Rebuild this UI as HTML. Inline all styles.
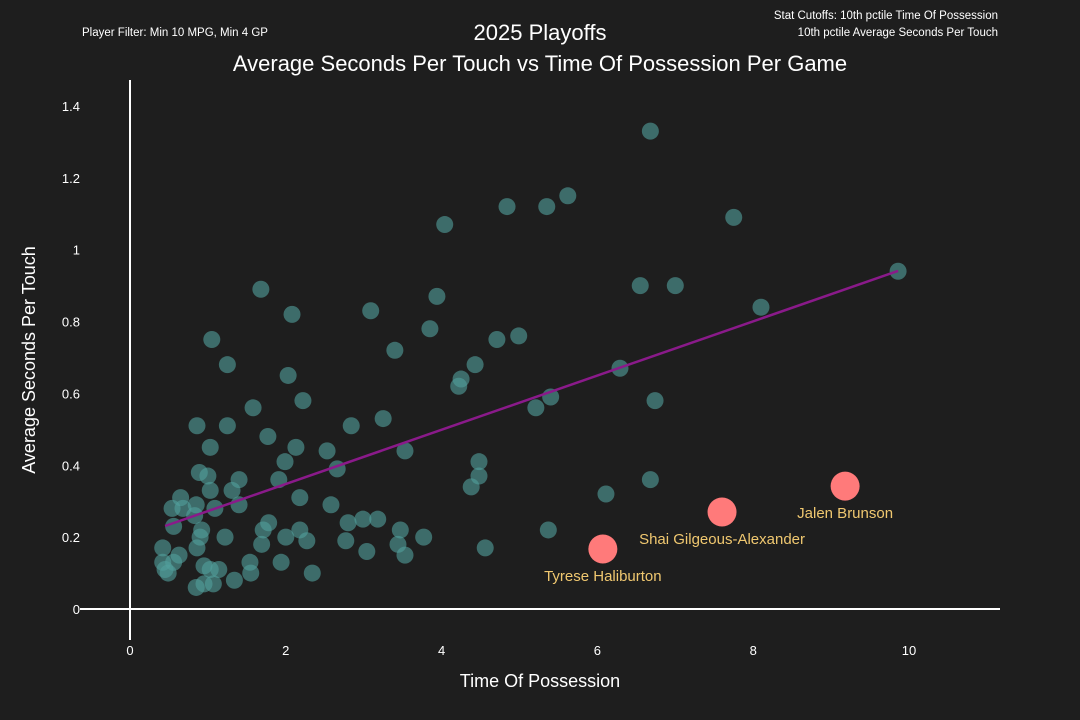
<!DOCTYPE html>
<html><head><meta charset="utf-8"><style>
html,body{margin:0;padding:0;background:#1e1e1e;}
svg{display:block;font-family:"Liberation Sans",sans-serif;}
</style></head><body>
<svg id="chart" width="1080" height="720">
<rect width="1080" height="720" fill="#1e1e1e"/>
<text x="540" y="40" fill="#fff" font-size="22" text-anchor="middle">2025 Playoffs</text>
<text x="540" y="71" fill="#fff" font-size="22" text-anchor="middle">Average Seconds Per Touch vs Time Of Possession Per Game</text>
<text x="82" y="36" fill="#fff" font-size="11.5">Player Filter: Min 10 MPG, Min 4 GP</text>
<text x="998" y="19" fill="#fff" font-size="11.5" text-anchor="end">Stat Cutoffs: 10th pctile Time Of Possession</text>
<text x="998" y="36" fill="#fff" font-size="11.5" text-anchor="end">10th pctile Average Seconds Per Touch</text>
<g id="axes"></g>
<g id="marks"></g>
<text x="540" y="687" fill="#fff" font-size="18" text-anchor="middle">Time Of Possession</text>
<text transform="translate(35,360) rotate(-90)" fill="#fff" font-size="18" text-anchor="middle">Average Seconds Per Touch</text>
</svg>
<script>
const xs=[6.68,5.62,4.84,5.35,7.75,4.04,9.86,6.55,7.00,1.68,3.94,2.08,3.09,8.10,3.85,3.40,4.99,4.71,1.05,6.29,4.43,4.25,4.22,2.03,1.25,2.22,5.40,6.74,1.58,5.21,0.86,1.25,3.25,2.84,1.03,1.77,2.13,3.53,4.48,2.53,1.99,2.66,1.91,0.89,1.40,1.00,4.48,4.38,6.11,6.68,0.65,1.03,1.31,0.85,1.40,2.18,2.58,3.18,2.99,2.80,0.54,0.68,1.09,0.83,1.78,0.92,0.56,2.18,5.37,3.47,1.71,2.27,0.90,3.77,2.77,3.04,3.44,1.69,2.00,0.86,0.42,1.22,0.63,0.56,0.95,0.45,1.14,1.94,1.54,2.34,3.53,4.56,1.55,0.42,1.03,0.49,1.34,0.85,1.07,0.95];
const ys=[1.33,1.15,1.12,1.12,1.09,1.07,0.94,0.90,0.90,0.89,0.87,0.82,0.83,0.84,0.78,0.72,0.76,0.75,0.75,0.67,0.68,0.64,0.62,0.65,0.68,0.58,0.59,0.58,0.56,0.56,0.51,0.51,0.53,0.51,0.45,0.48,0.45,0.44,0.41,0.44,0.41,0.39,0.36,0.38,0.36,0.37,0.37,0.34,0.32,0.36,0.31,0.33,0.33,0.29,0.29,0.31,0.29,0.25,0.25,0.24,0.28,0.28,0.28,0.26,0.24,0.22,0.23,0.22,0.22,0.22,0.22,0.19,0.20,0.20,0.19,0.16,0.18,0.18,0.20,0.17,0.17,0.20,0.15,0.13,0.12,0.11,0.11,0.13,0.13,0.10,0.15,0.17,0.10,0.13,0.11,0.10,0.08,0.06,0.07,0.07];
const hiNames=["Tyrese Haliburton","Shai Gilgeous-Alexander","Jalen Brunson"];
const hiX=[6.07,7.60,9.18];
const hiY=[0.167,0.27,0.342];
const trendX=[0.45,9.86];
const trendY=[0.231,0.941];
const xTicks=[0,2,4,6,8,10];
const yTicks=[0,0.2,0.4,0.6,0.8,1,1.2,1.4];
const sx=v=>130+v*77.9, sy=v=>609-v*359.3;
const NS="http://www.w3.org/2000/svg";
function mk(t,a,p){const e=document.createElementNS(NS,t);for(const k in a)e.setAttribute(k,a[k]);p.appendChild(e);return e;}
const ax=document.getElementById('axes'), mg=document.getElementById('marks');
let l=mk('line',{x1:80,x2:1000,y1:sy(0),y2:sy(0),stroke:'#fff','stroke-width':2},ax);


l=mk('line',{x1:sx(0),x2:sx(0),y1:80,y2:640,stroke:'#fff','stroke-width':2},ax);


xTicks.forEach(v=>{const t=mk('text',{x:sx(v),y:655,fill:'#fff','font-size':13,'text-anchor':'middle'},ax);t.textContent=v;

});
yTicks.forEach(v=>{const t=mk('text',{x:80,y:sy(v)+5,fill:'#fff','font-size':13,'text-anchor':'end'},ax);t.textContent=v;

});
xs.forEach((x,i)=>{const c=mk('circle',{cx:sx(x),cy:sy(ys[i]),r:8.5,fill:'rgba(82,160,156,0.6)'},mg);

});
const tl=mk('line',{x1:sx(trendX[0]),y1:sy(trendY[0]),x2:sx(trendX[1]),y2:sy(trendY[1]),stroke:'#8a1a8a','stroke-width':2.5},mg);


hiX.forEach((x,i)=>{const c=mk('circle',{cx:sx(x),cy:sy(hiY[i]),r:14.5,fill:'#ff7a7a'},mg);


const t=mk('text',{x:sx(x),y:sy(hiY[i])+32,fill:'#f0c870','font-size':15,'text-anchor':'middle'},mg);
t.textContent=hiNames[i];

});
</script>
</body></html>
